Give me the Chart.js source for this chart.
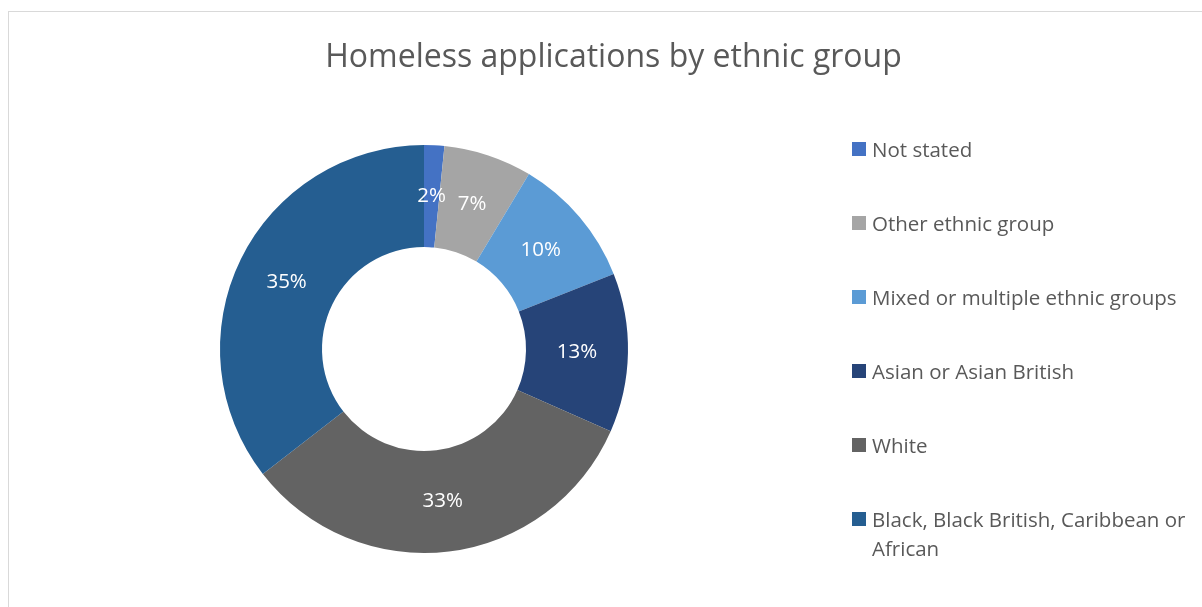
<!DOCTYPE html>
<html>
<head>
<meta charset="utf-8">
<script src="https://cdn.jsdelivr.net/npm/chart.js@4/dist/chart.umd.min.js"></script>
<style>
  html, body { margin: 0; padding: 0; background: #ffffff; }
  body { width: 1202px; height: 607px; position: relative; overflow: hidden; font-family: "Open Sans", "Noto Sans", sans-serif; }
  #frame { position: absolute; left: 8px; top: 11px; width: 1300px; height: 700px; border-left: 1px solid #d9d9d9; border-top: 1px solid #d9d9d9; box-sizing: border-box; }
  #wrap { position: absolute; left: 0; top: 0; width: 1202px; height: 607px; }
  #title { position: absolute; left: 0; width: 1227px; top: 35px; text-align: center; font-size: 32px; color: #595959; line-height: 40px; white-space: nowrap; }
  #legend { position: absolute; left: 852px; top: 0; width: 350px; }
  .item { position: absolute; left: 0; display: flex; align-items: flex-start; font-size: 20.5px; color: #595959; line-height: 29px; }
  .sw { width: 14px; height: 14px; margin-top: 7px; margin-right: 6px; flex: none; }
  .lbl { width: 340px; white-space: nowrap; }
</style>
</head>
<body>
<div id="frame"></div>
<div id="wrap"><canvas id="c" width="1202" height="607"></canvas></div>
<div id="title"></div>
<div id="legend"></div>
<script>
const chartTitle = "Homeless applications by ethnic group";
const categories = ["Not stated", "Other ethnic group", "Mixed or multiple ethnic groups", "Asian or Asian British", "White", "Black, Black British, Caribbean or African"];
const legendLines = [["Not stated"], ["Other ethnic group"], ["Mixed or multiple ethnic groups"], ["Asian or Asian British"], ["White"], ["Black, Black British, Caribbean or", "African"]];
const shares = [1.6, 7.0, 10.4, 12.6, 32.9, 35.5];
const shareLabels = ["2%", "7%", "10%", "13%", "33%", "35%"];
const sliceColors = ["#4472C4", "#A5A5A5", "#5B9BD5", "#264478", "#636363", "#255E91"];
const legendTops = [135, 209, 283, 357, 431, 505];

document.getElementById('title').textContent = chartTitle;
const leg = document.getElementById('legend');
legendLines.forEach((lines, i) => {
  const d = document.createElement('div');
  d.className = 'item';
  d.style.top = legendTops[i] + 'px';
  const s = document.createElement('span'); s.className = 'sw'; s.style.background = sliceColors[i];
  const t = document.createElement('span'); t.className = 'lbl';
  lines.forEach((ln, k) => {
    if (k > 0) t.appendChild(document.createElement('br'));
    t.appendChild(document.createTextNode(ln));
  });
  d.appendChild(s); d.appendChild(t); leg.appendChild(d);
});

const sliceLabelPlugin = {
  id: 'sliceLabels',
  afterDatasetsDraw(chart) {
    const ctx = chart.ctx;
    const meta = chart.getDatasetMeta(0);
    ctx.save();
    ctx.fillStyle = '#ffffff';
    ctx.font = '20.5px "Open Sans", "Noto Sans", sans-serif';
    ctx.textAlign = 'center';
    ctx.textBaseline = 'middle';
    meta.data.forEach((arc, i) => {
      const p = arc.tooltipPosition();
      ctx.fillText(shareLabels[i], p.x, p.y);
    });
    ctx.restore();
  }
};

new Chart(document.getElementById('c'), {
  type: 'doughnut',
  data: {
    labels: categories,
    datasets: [{
      data: shares,
      backgroundColor: sliceColors,
      borderColor: '#ffffff',
      borderWidth: 0,
      hoverOffset: 0
    }]
  },
  options: {
    responsive: false,
    animation: false,
    cutout: '50%',
    layout: { padding: { left: 220, right: 574, top: 145, bottom: 54 } },
    plugins: {
      legend: { display: false },
      title: { display: false },
      tooltip: { enabled: false }
    }
  },
  plugins: [sliceLabelPlugin]
});
</script>
</body>
</html>
